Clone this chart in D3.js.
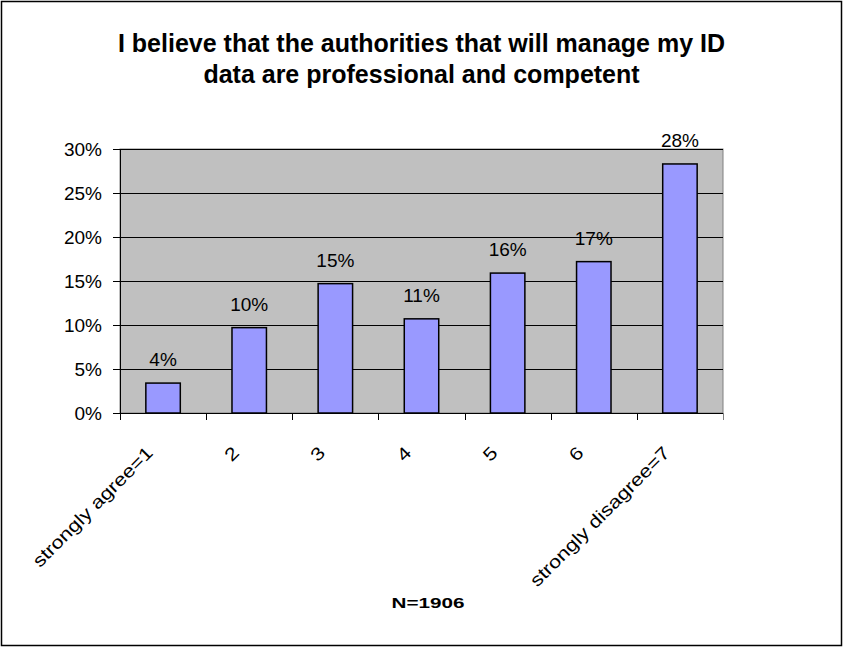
<!DOCTYPE html>
<html>
<head>
<meta charset="utf-8">
<script src="https://cdn.jsdelivr.net/npm/d3@7"></script>
<style>
  body { margin: 0; background: #fff; }
  text { font-family: Arial, "Liberation Sans", sans-serif; }
</style>
</head>
<body>
<div id="chart"></div>
<script>
// data
const categories = ["strongly agree=1", "2", "3", "4", "5", "6", "strongly disagree=7"];
const shares = [3.4, 9.7, 14.7, 10.7, 15.9, 17.2, 28.3];
const shareLabels = ["4%", "10%", "15%", "11%", "16%", "17%", "28%"];
const yTicks = [0, 5, 10, 15, 20, 25, 30];
const titleLines = ["I believe that the authorities that will manage my ID",
                    "data are professional and competent"];
const axisTitle = "N=1906";

const W = 843, H = 648;
const margin = {top: 149, right: 120, bottom: 235, left: 120},
    width = W - margin.left - margin.right,
    height = H - margin.top - margin.bottom;

const root = d3.select("#chart").append("svg")
    .attr("width", W)
    .attr("height", H);

// outer frame
root.append("rect")
    .attr("x", 1.5).attr("y", 1.5)
    .attr("width", W - 3).attr("height", H - 4)
    .attr("fill", "#fff")
    .attr("stroke", "#000")
    .attr("stroke-width", 1.5);

// title
root.append("text")
    .attr("text-anchor", "middle")
    .style("font-size", "25px")
    .style("font-weight", "bold")
    .selectAll("tspan")
    .data(titleLines)
    .join("tspan")
      .attr("x", W / 2)
      .attr("y", (d, i) => 52 + i * 31)
      .text(d => d);

const svg = root.append("g")
    .attr("transform", `translate(${margin.left}, ${margin.top})`);

const x = d3.scaleBand()
    .domain(categories)
    .range([0, width])
    .paddingInner(0.6)
    .paddingOuter(0.3);

const y = d3.scaleLinear()
    .domain([0, 30])
    .range([height, 0]);

// plot area
svg.append("rect")
    .attr("width", width)
    .attr("height", height)
    .attr("fill", "#c0c0c0")
    .attr("stroke", "#808080")
    .attr("stroke-width", 1);

// gridlines
svg.append("g")
  .selectAll("line")
  .data(yTicks.slice(1))
  .join("line")
    .attr("x1", 0).attr("x2", width)
    .attr("y1", d => Math.round(y(d)) + 0.5)
    .attr("y2", d => Math.round(y(d)) + 0.5)
    .attr("stroke", "#000")
    .attr("stroke-width", 1);

// bars
svg.selectAll(".bar")
  .data(shares)
  .join("rect")
    .attr("class", "bar")
    .attr("x", (d, i) => x(categories[i]))
    .attr("y", d => y(d))
    .attr("width", x.bandwidth())
    .attr("height", d => height - y(d))
    .attr("fill", "#9999ff")
    .attr("stroke", "#000")
    .attr("stroke-width", 1.5);

// value labels
svg.selectAll(".lbl")
  .data(shares)
  .join("text")
    .attr("class", "lbl")
    .attr("x", (d, i) => x(categories[i]) + x.bandwidth() / 2)
    .attr("y", d => y(d) - 17)
    .attr("text-anchor", "middle")
    .style("font-size", "19px")
    .text((d, i) => shareLabels[i]);

// Y axis
const yAxis = svg.append("g")
    .call(d3.axisLeft(y).tickValues(yTicks).tickSize(7).tickPadding(11)
      .tickFormat(d => d + "%"));
yAxis.select(".domain").attr("stroke", "#000").attr("d", `M0.5,0V${height}`);
yAxis.selectAll("text").style("font-size", "19px").style("font-family", "Arial, 'Liberation Sans', sans-serif")
    .attr("fill", "#000");

// X axis line and ticks at category boundaries
const step = x.step();
const xAxisG = svg.append("g").attr("transform", `translate(0, ${height})`);
xAxisG.append("line")
    .attr("x1", 0).attr("x2", width)
    .attr("y1", 0.5).attr("y2", 0.5)
    .attr("stroke", "#000");
xAxisG.selectAll(".xt")
  .data(d3.range(categories.length + 1))
  .join("line")
    .attr("class", "xt")
    .attr("x1", i => Math.round(i * step) + 0.5)
    .attr("x2", i => Math.round(i * step) + 0.5)
    .attr("y1", 0).attr("y2", 7)
    .attr("stroke", i => i === categories.length ? "#808080" : "#000");

// rotated category labels (the original renders them a bit wide)
xAxisG.selectAll(".xl")
  .data(categories)
  .join("text")
    .attr("class", "xl")
    .attr("text-anchor", "end")
    .style("font-size", "18px")
    .attr("transform", d => `translate(${x(d) + x.bandwidth() / 2 - 9}, 41) rotate(-45) scale(1.2, 1)`)
    .text(d => d);

// axis title
root.append("text")
    .attr("x", 428)
    .attr("y", 608)
    .attr("text-anchor", "middle")
    .style("font-size", "15px")
    .style("font-weight", "bold")
    .attr("textLength", 73)
    .attr("lengthAdjust", "spacingAndGlyphs")
    .text(axisTitle);
</script>
</body>
</html>
